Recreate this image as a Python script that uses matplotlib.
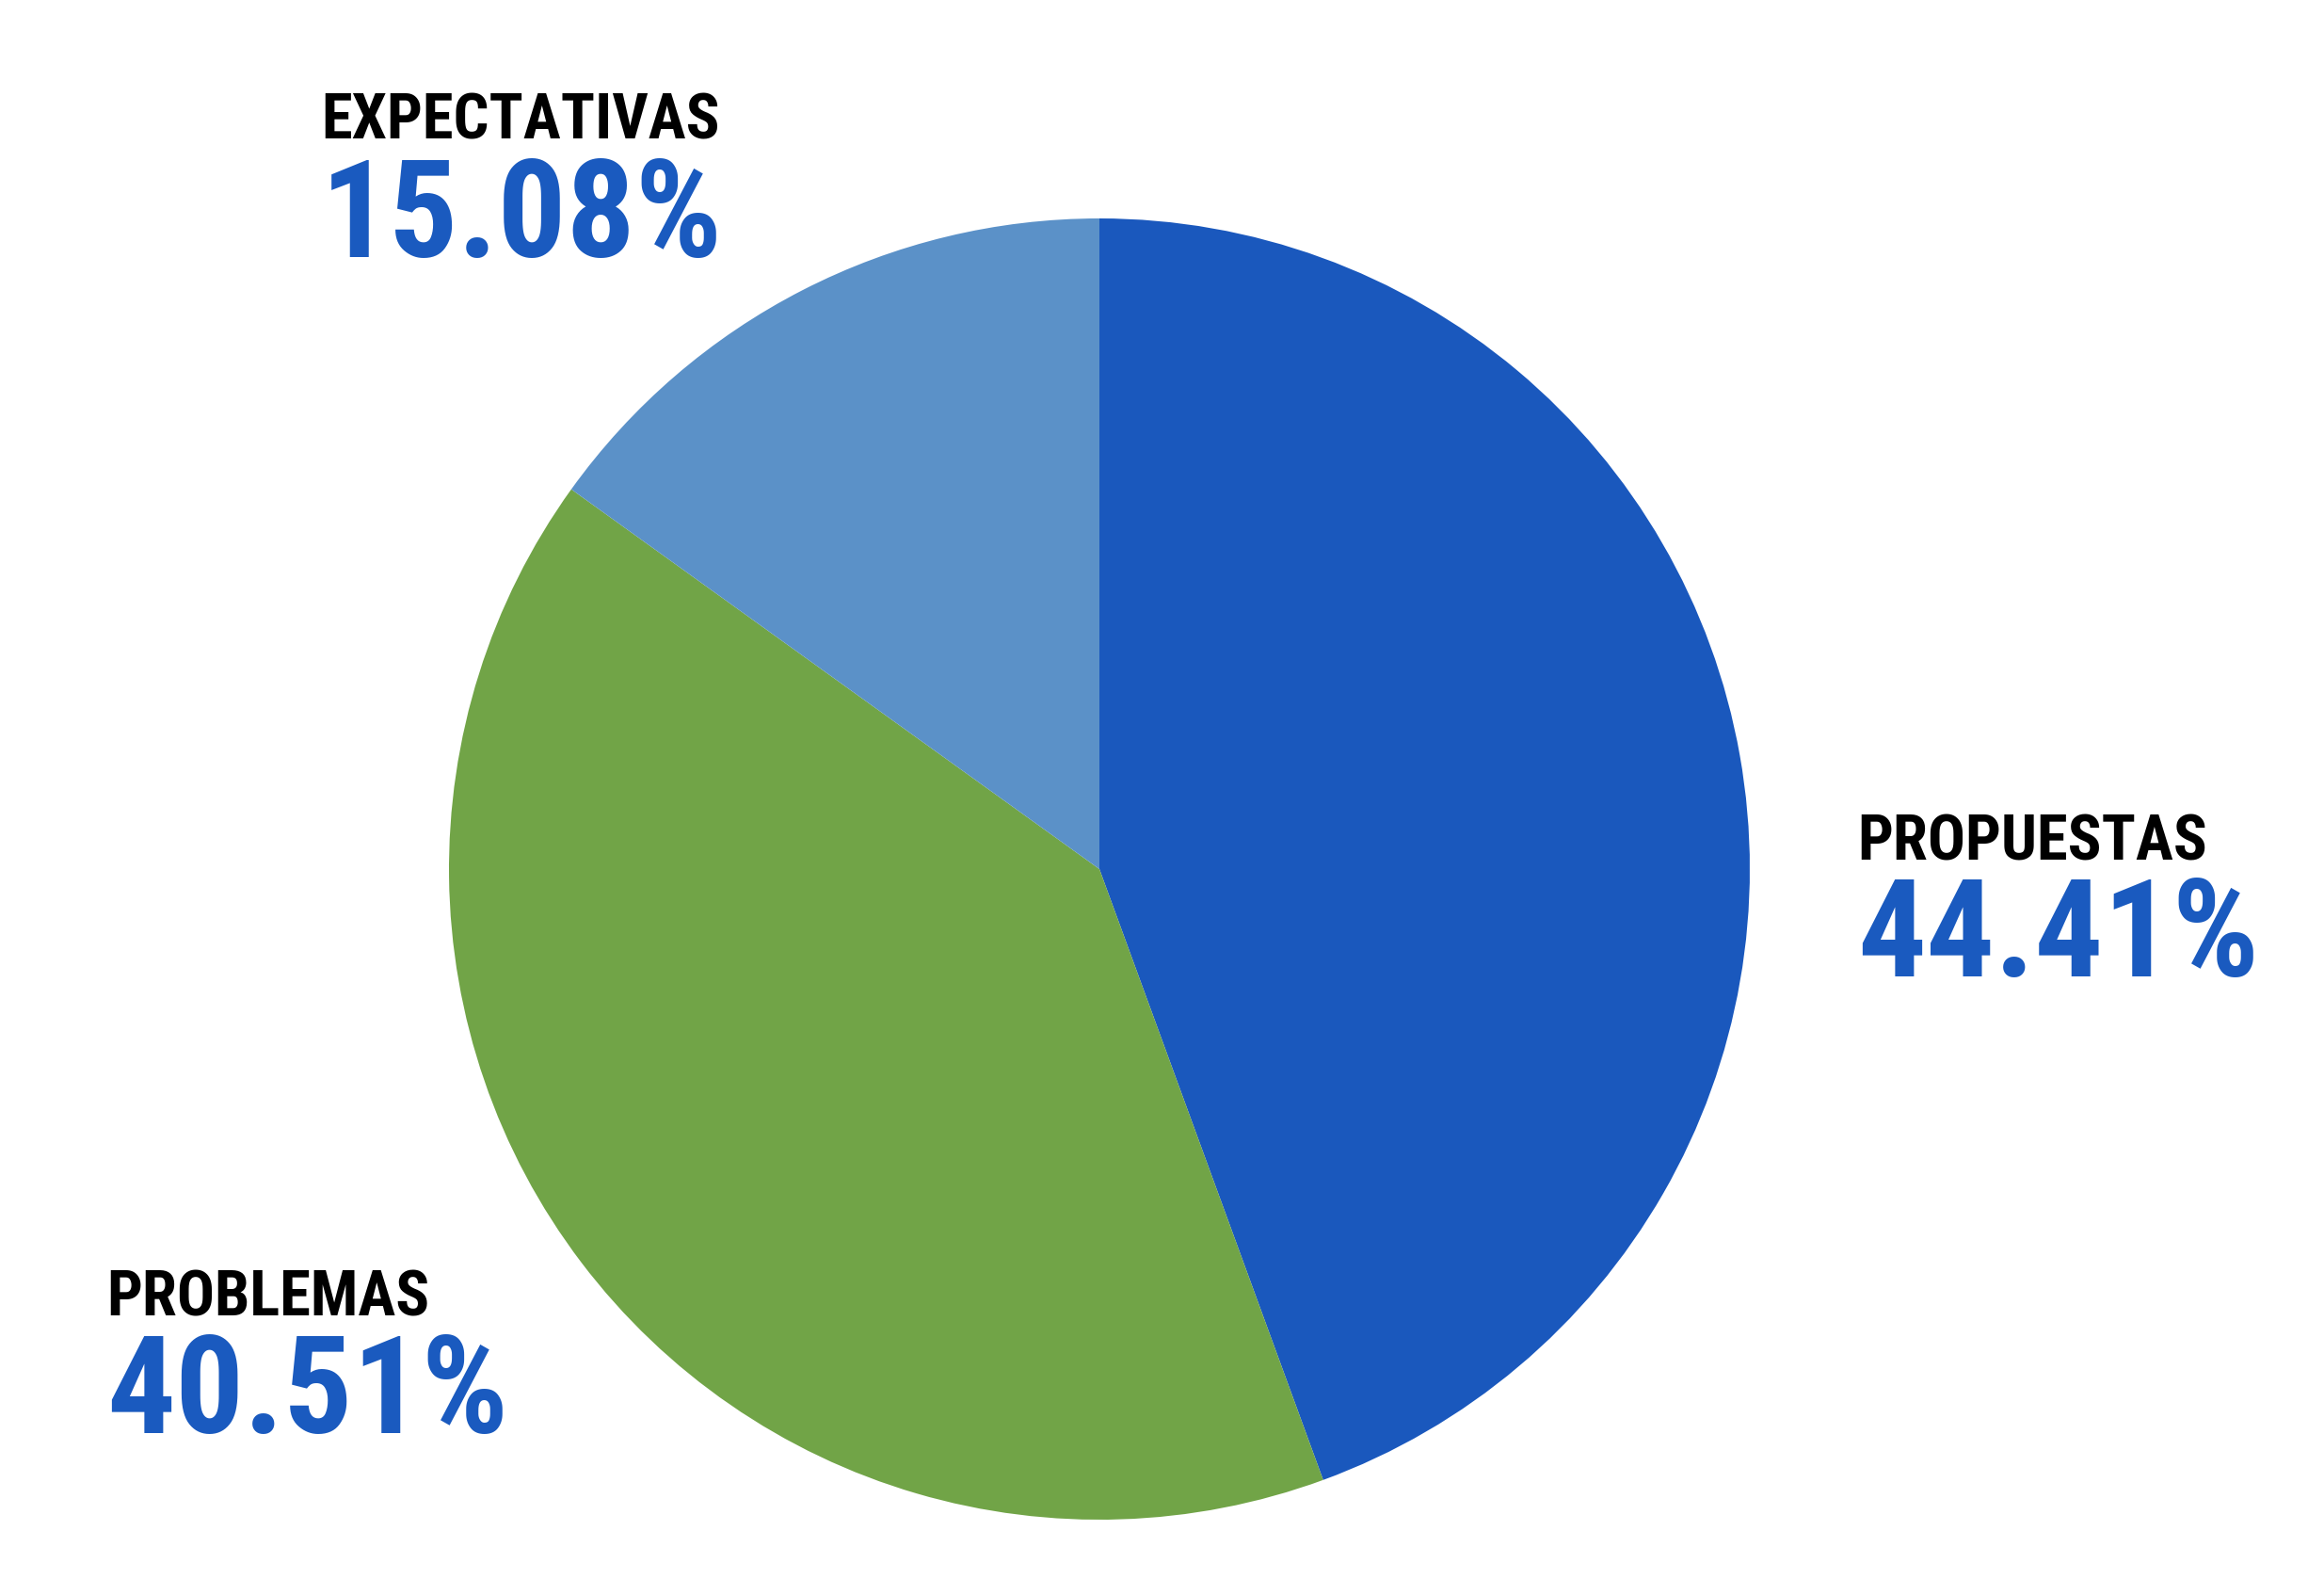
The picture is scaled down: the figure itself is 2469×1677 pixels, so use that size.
import matplotlib.pyplot as plt
from matplotlib import font_manager

# chart data
labels = ['PROPUESTAS', 'PROBLEMAS', 'EXPECTATIVAS']
values = [44.41, 40.51, 15.08]
colors = ['#1a58bd', '#71a447', '#5b91c8']

# label anchor (pixel coords from top-left: x, name baseline, pct baseline)
label_pos = {
    'PROPUESTAS': (1973, 913, 1037),
    'PROBLEMAS': (113, 1397, 1522),
    'EXPECTATIVAS': (341, 148, 273),
}

W, H = 2469, 1677
DPI = 100

PREFER = ['liberation', 'roboto', 'noto', 'open', 'dejavu']


def pick_font():
    # bold condensed / narrow face from one of the known sans families
    cond = []
    for f in font_manager.fontManager.ttflist:
        st = str(f.stretch).lower()
        nm = f.name.lower() + ' ' + f.fname.lower()
        fam = next((i for i, p in enumerate(PREFER) if p in nm), None)
        if fam is None or 'mono' in nm or 'cjk' in nm:
            continue
        is_cond = ('condensed' in st or 'narrow' in nm or 'condensed' in nm) \
            and 'extra' not in nm and 'semi' not in nm and 'ultra' not in nm
        w = f.weight if isinstance(f.weight, int) else 700 if 'bold' in str(f.weight) else 400
        if is_cond and w == 700 and f.style == 'normal':
            cond.append((fam, f))
    cond.sort(key=lambda t: t[0])
    if cond:
        return font_manager.FontProperties(fname=cond[0][1].fname), cond[0][0]
    return font_manager.FontProperties(family='Liberation Sans', weight='bold'), -1


fprop, which = pick_font()
sizes = {0: (50, 104), 1: (48, 104), 2: (47, 100), 3: (47, 100), 4: (44, 88)}
name_size, pct_size = sizes.get(which, (42, 86))

fig = plt.figure(figsize=(W / DPI, H / DPI), dpi=DPI)
fig.patch.set_facecolor('white')

cx, cy, r = 1168, 923, 691
ax = fig.add_axes([(cx - r) / W, (H - cy - r) / H, 2 * r / W, 2 * r / H])
ax.pie(values, colors=colors, startangle=90, counterclock=False, radius=1,
       wedgeprops=dict(linewidth=0))
ax.set_xlim(-1, 1)
ax.set_ylim(-1, 1)
ax.set_aspect('equal')
ax.axis('off')

for name, val in zip(labels, values):
    x, yb1, yb2 = label_pos[name]
    fp1 = fprop.copy()
    fp1.set_size(name_size)
    fp2 = fprop.copy()
    fp2.set_size(pct_size)
    fig.text(x / W, 1 - yb1 / H, name, fontproperties=fp1,
             color='black', ha='left', va='baseline')
    fig.text(x / W, 1 - yb2 / H, f'{val:.2f}%', fontproperties=fp2,
             color='#1a5abf', ha='left', va='baseline')

fig.savefig('out.png', dpi=DPI, facecolor='white')
